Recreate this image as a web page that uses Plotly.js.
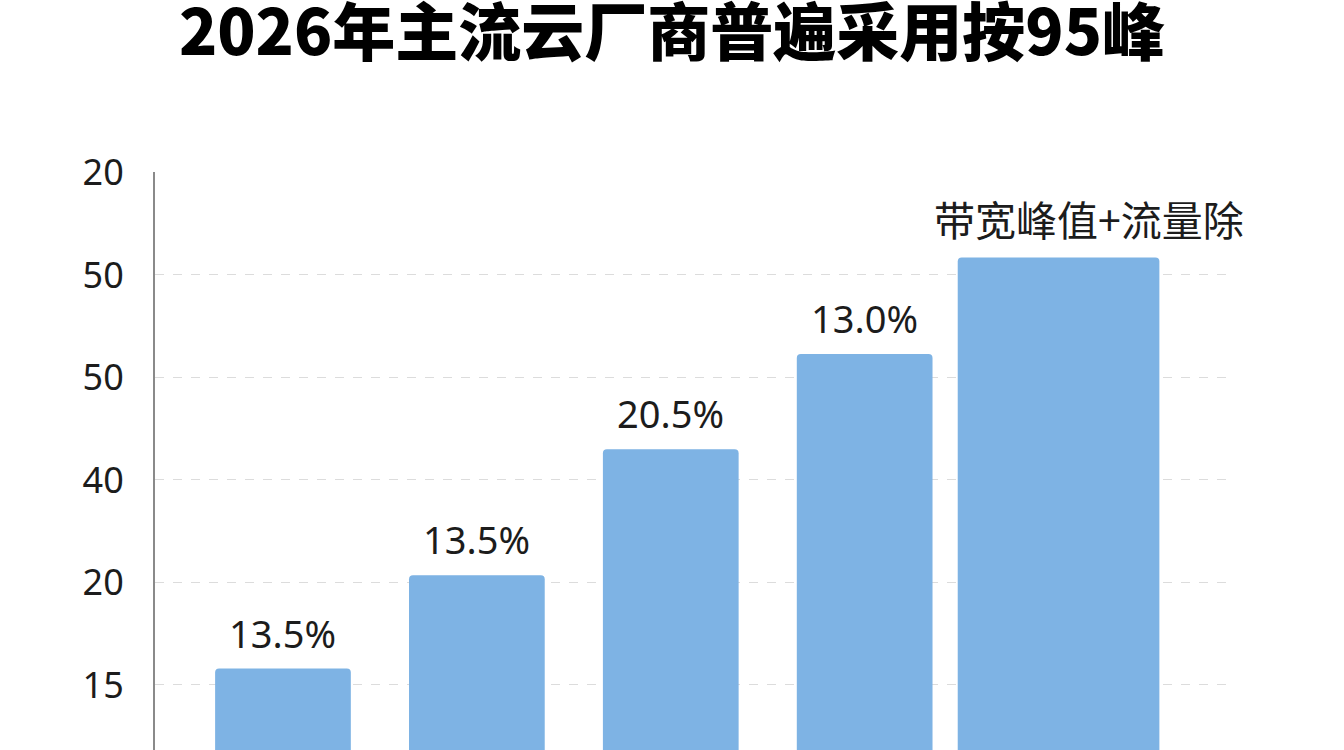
<!DOCTYPE html>
<html>
<head>
<meta charset="utf-8">
<script src="https://cdn.plot.ly/plotly-3.0.1.min.js"></script>
<style>
  html, body { margin: 0; padding: 0; background: #ffffff; }
  #chart { width: 1344px; height: 750px; }
</style>
</head>
<body>
<div id="chart"></div>
<script>
// ---- data ----
const categories = ['1', '2', '3', '4', '5'];
const barValues = [11.6, 20.7, 33.0, 42.3, 51.7];
const barLabels = ['13.5%', '13.5%', '20.5%', '13.0%', '带宽峰值+流量除'];
const tickValues = [10, 20, 30, 40, 50, 60];
const tickLabels = ['15', '20', '40', '50', '50', '20'];
const titleText = '2026年主流云厂商普遍采用按95峰';

const barColor = '#7eb3e4';
const textColor = '#1c1c1c';

const trace = {
  type: 'bar',
  x: categories,
  y: barValues,
  width: [0.7, 0.7, 0.7, 0.7, 1.04],
  marker: { color: barColor, line: { width: 0 } },
  hoverinfo: 'none'
};

const annotations = categories.map((c, i) => {
  const isText = i === categories.length - 1;
  return {
    x: i,
    y: barValues[i],
    xref: 'x',
    yref: 'y',
    text: barLabels[i],
    showarrow: false,
    yanchor: 'bottom',
    xanchor: 'center',
    xshift: isText ? 30 : 0,
    yshift: 8,
    font: isText
      ? { family: '"Noto Sans CJK SC", "Noto Sans", sans-serif', size: 41, color: textColor }
      : { family: '"Noto Sans", sans-serif', size: 38, color: textColor }
  };
});

const layout = {
  width: 1344,
  height: 750,
  paper_bgcolor: '#ffffff',
  plot_bgcolor: '#ffffff',
  margin: { l: 155, r: 109, t: 172, b: 0 },
  showlegend: false,
  barcornerradius: 4,
  title: {
    text: titleText,
    font: { family: '"Noto Sans CJK SC", sans-serif', size: 63, color: '#000000', weight: 900 },
    x: 0.5,
    xref: 'container',
    xanchor: 'center',
    y: 1 - 33 / 750,
    yref: 'container',
    yanchor: 'middle'
  },
  xaxis: {
    type: 'category',
    range: [-0.66, 4.91],
    showticklabels: false,
    showgrid: false,
    zeroline: false,
    showline: false,
    ticks: ''
  },
  yaxis: {
    range: [3.65, 60.05],
    tickmode: 'array',
    tickvals: tickValues,
    ticktext: tickLabels,
    tickfont: { family: '"Noto Sans", sans-serif', size: 36, color: textColor },
    ticks: '',
    ticklabelstandoff: 22,
    showline: true,
    linecolor: '#8a8a8a',
    linewidth: 2,
    showgrid: true,
    gridcolor: '#dcdcdc',
    griddash: 'dash',
    gridwidth: 1,
    zeroline: false
  },
  annotations: annotations
};

Plotly.newPlot('chart', [trace], layout, { displayModeBar: false, staticPlot: true });
</script>
</body>
</html>
